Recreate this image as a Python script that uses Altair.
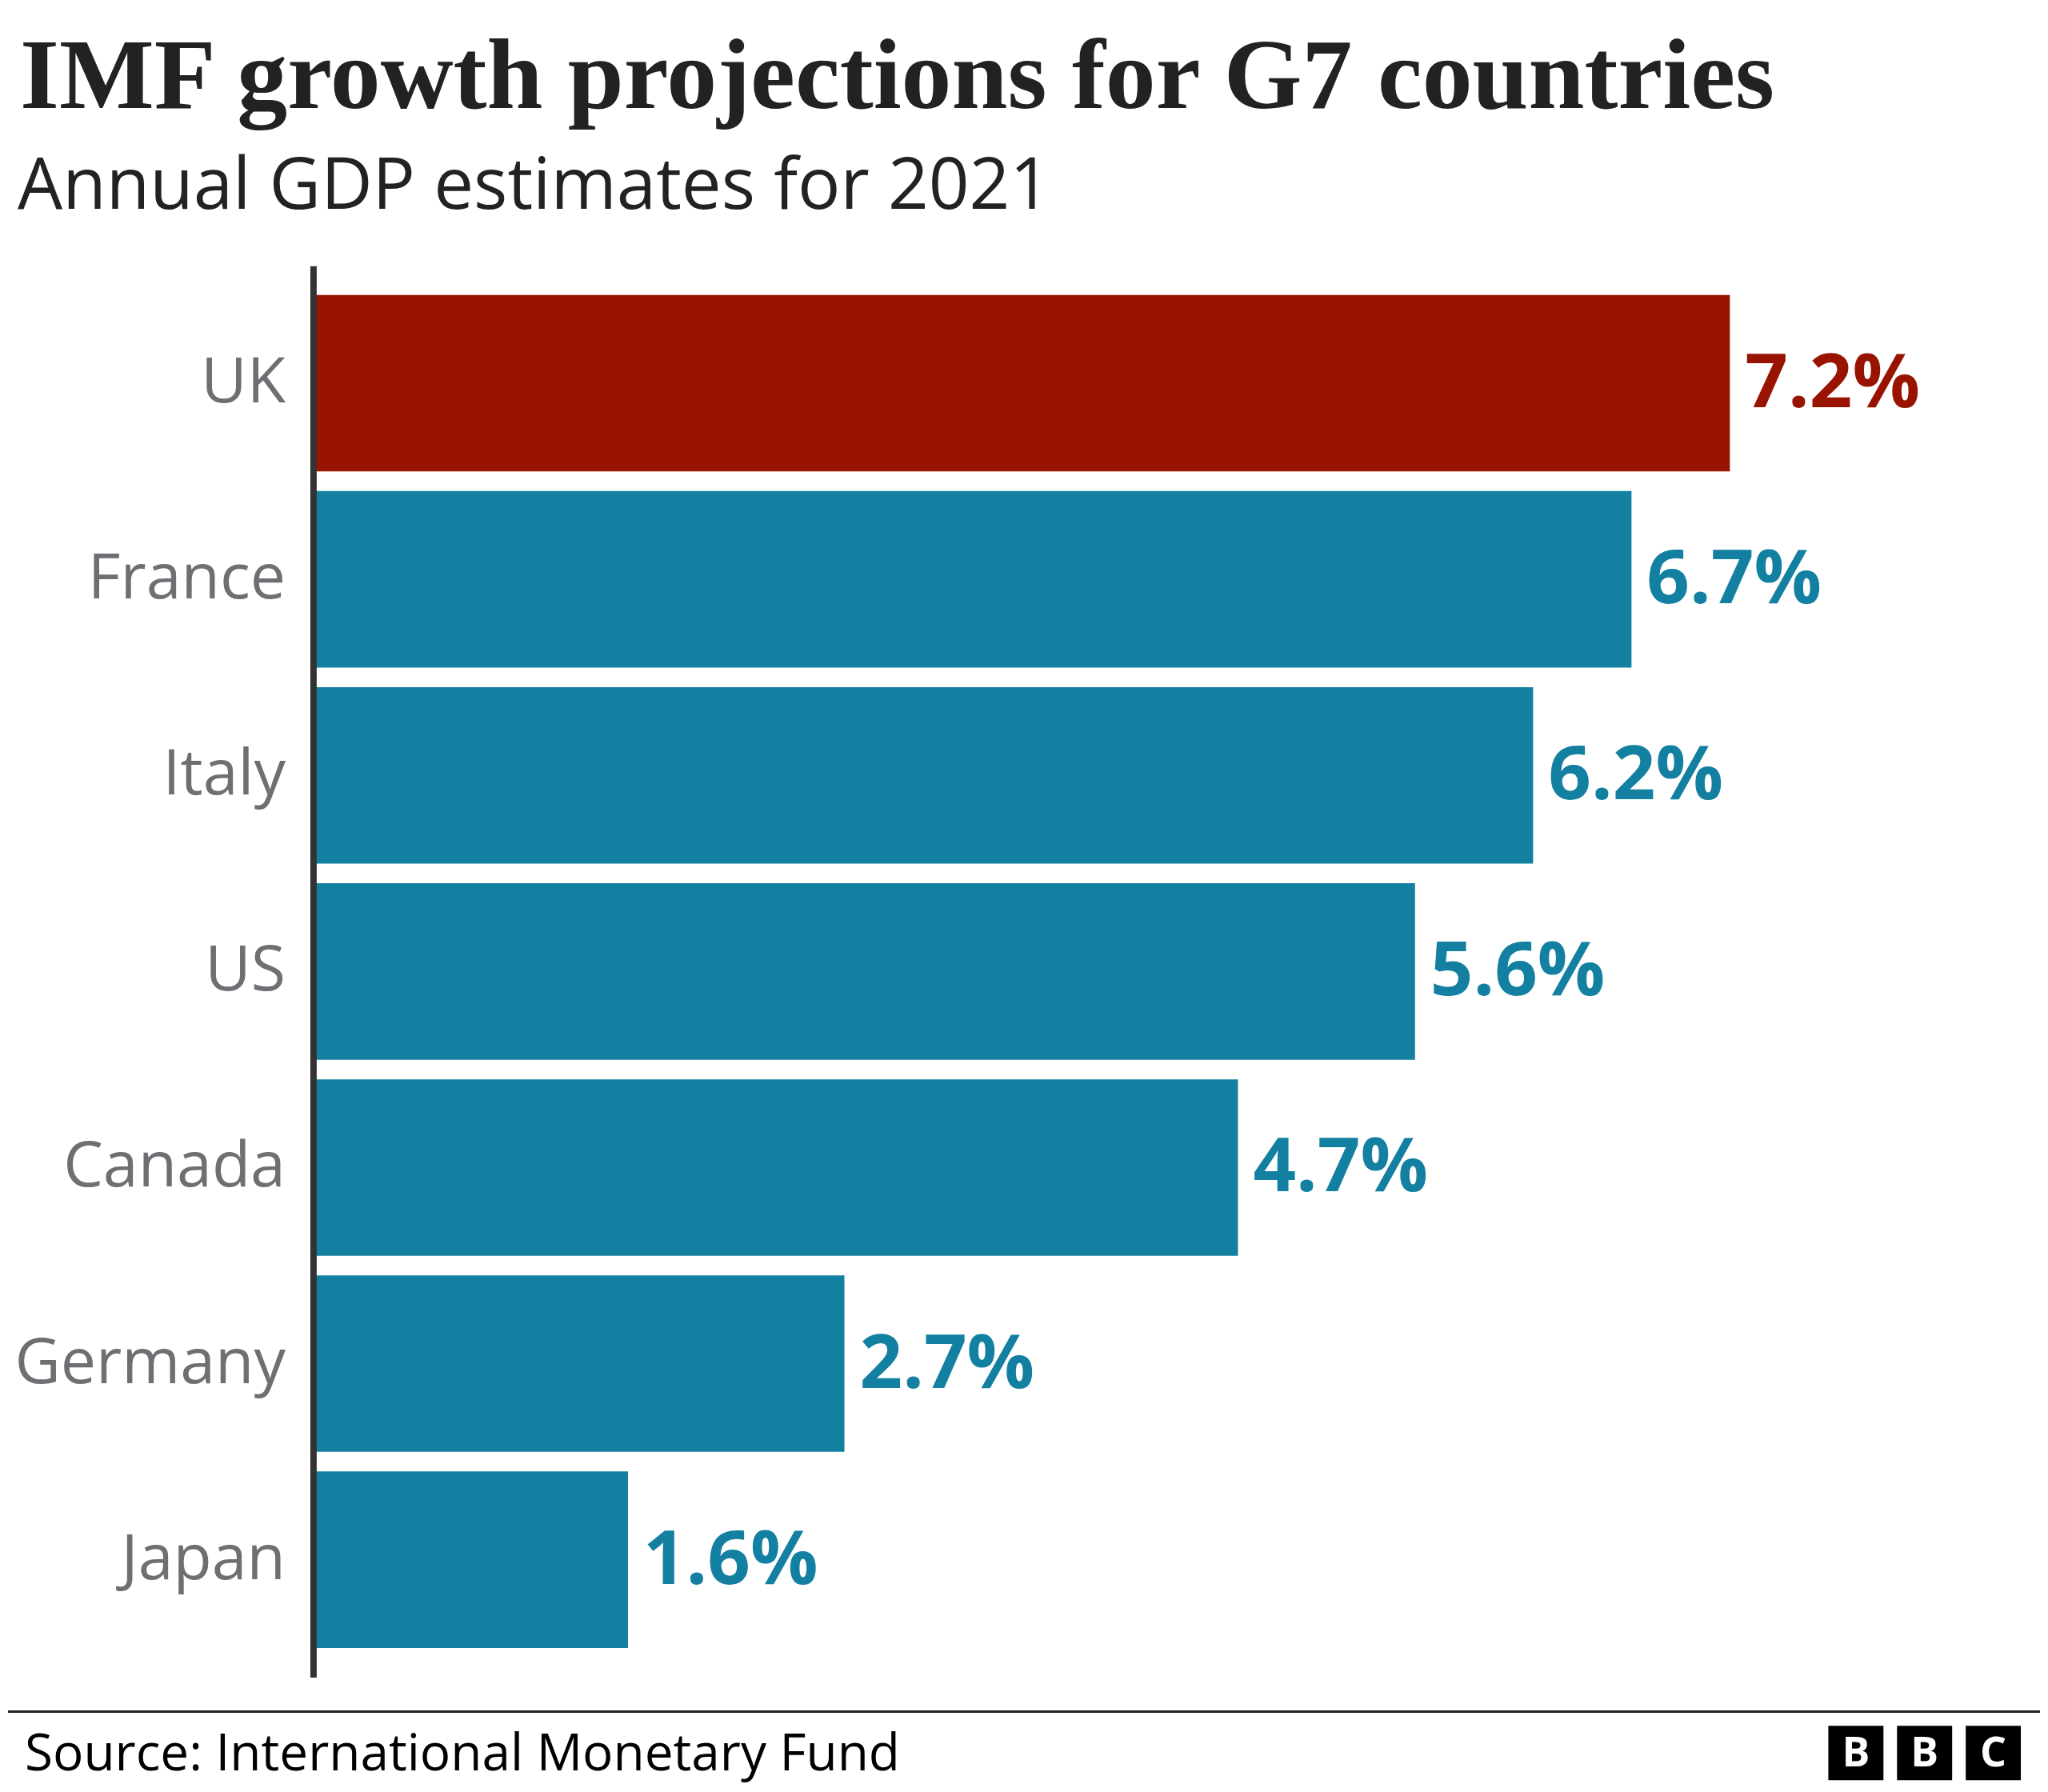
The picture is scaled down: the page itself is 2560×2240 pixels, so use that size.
import altair as alt
import pandas as pd

countries = ["UK", "France", "Italy", "US", "Canada", "Germany", "Japan"]
growth = [7.2, 6.7, 6.2, 5.6, 4.7, 2.7, 1.6]
labels = ["7.2%", "6.7%", "6.2%", "5.6%", "4.7%", "2.7%", "1.6%"]
highlight = ["UK"]

RED = "#981300"
TEAL = "#1380a1"

df = pd.DataFrame({
    "country": countries,
    "growth": growth,
    "label": labels,
    "color": [RED if c in highlight else TEAL for c in countries],
})

W = 2094
H = 1767

yenc = alt.Y("country:N", sort=countries,
             scale=alt.Scale(paddingInner=0.1, paddingOuter=0.149),
             axis=alt.Axis(title=None, ticks=False, tickSize=0, labelPadding=35, labelLimit=0,
                           labelFontSize=79, labelFont="Open Sans", labelColor="#6e6e73",
                           domainColor="#333333", domainWidth=8, zindex=1, grid=False))
xenc = alt.X("growth:Q", scale=alt.Scale(domain=[0, 8.5], nice=False), axis=None)

one = pd.DataFrame({"k": [0]})

bg = alt.Chart(one).mark_rect(fill="white").encode(
    x=alt.value(-382), x2=alt.value(2162), y=alt.value(-323), y2=alt.value(1901))

bars = alt.Chart(df).mark_bar().encode(
    y=yenc, x=xenc, color=alt.Color("color:N", scale=None))

vals = alt.Chart(df).mark_text(align="left", baseline="middle", dx=19, dy=2,
                               font="Open Sans", fontWeight="bold", fontSize=94).encode(
    y=alt.Y("country:N", sort=countries), x="growth:Q", text="label:N",
    color=alt.Color("color:N", scale=None))

title = alt.Chart(one).mark_text(text="IMF growth projections for G7 countries",
                                 align="left", baseline="alphabetic",
                                 font="Liberation Serif", fontWeight="bold",
                                 fontSize=126, color="#222222").encode(
    x=alt.value(-367), y=alt.value(-198))

subtitle = alt.Chart(one).mark_text(text="Annual GDP estimates for 2021",
                                    align="left", baseline="alphabetic",
                                    font="Open Sans", fontSize=89, color="#222222").encode(
    x=alt.value(-370), y=alt.value(-71))

footer_rule = alt.Chart(one).mark_rule(color="#222222", strokeWidth=3).encode(
    x=alt.value(-382), x2=alt.value(2162), y=alt.value(1810))

source = alt.Chart(one).mark_text(text="Source: International Monetary Fund",
                                  align="left", baseline="alphabetic",
                                  font="Open Sans", fontSize=64, color="#000000").encode(
    x=alt.value(-361), y=alt.value(1884))

logo_layers = []
for i, letter in enumerate(["B", "B", "C"]):
    x0 = 1897 + i * 86
    logo_layers.append(alt.Chart(one).mark_rect(fill="black").encode(
        x=alt.value(x0), x2=alt.value(x0 + 69), y=alt.value(1828), y2=alt.value(1896)))
    logo_layers.append(alt.Chart(one).mark_text(text=letter, align="center", baseline="middle",
                                                font="Open Sans", fontWeight="bold",
                                                fontSize=52, color="white").encode(
        x=alt.value(x0 + 34.5), y=alt.value(1863)))

chart = alt.layer(bg, bars, vals, title, subtitle, footer_rule, source, *logo_layers).properties(
    width=W, height=H, padding=0
).configure_view(stroke=None)

chart.save("out.html", embed_options={"renderer": "svg", "actions": False})
